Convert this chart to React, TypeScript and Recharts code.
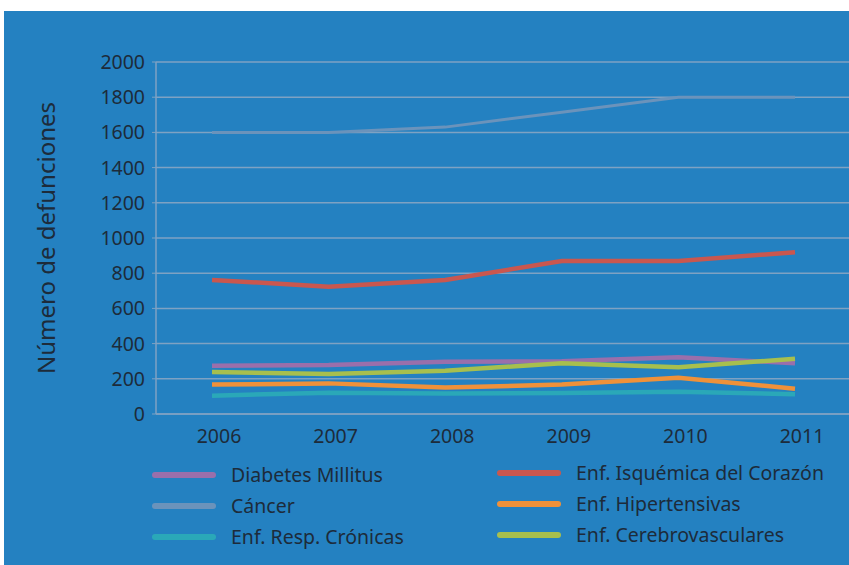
import { LineChart, Line, XAxis, YAxis, CartesianGrid } from "recharts";

const years = ["2006", "2007", "2008", "2009", "2010", "2011"];
const diabetes = [274, 278, 297, 300, 322, 288];
const cancer = [1600, 1600, 1630, 1715, 1800, 1800];
const respiratorias = [104, 121, 117, 119, 127, 112];
const isquemica = [762, 723, 762, 869, 869, 919];
const hipertensivas = [167, 174, 150, 167, 206, 144];
const cerebro = [239, 227, 246, 288, 265, 314];
const yTicks = [0, 200, 400, 600, 800, 1000, 1200, 1400, 1600, 1800, 2000];

const series = [
  { key: "diabetes", name: "Diabetes Millitus", color: "#9a6fab", values: diabetes },
  { key: "cancer", name: "Cáncer", color: "#6b93bb", values: cancer },
  { key: "resp", name: "Enf. Resp. Crónicas", color: "#2aa8b8", values: respiratorias },
  { key: "isq", name: "Enf. Isquémica del Corazón", color: "#c9574f", values: isquemica },
  { key: "hiper", name: "Enf. Hipertensivas", color: "#ef913a", values: hipertensivas },
  { key: "cerebro", name: "Enf. Cerebrovasculares", color: "#a7bf4e", values: cerebro },
];

const data = years.map((year, i) => {
  const row: Record<string, string | number> = { year };
  series.forEach((s) => (row[s.key] = s.values[i]));
  return row;
});

const font = "'Noto Sans', sans-serif";
const textColor = "#1d2b3a";
const gridColor = "#7ea2c3";

function LegendItem({ name, color }: { name: string; color: string }) {
  return (
    <div style={{ display: "flex", alignItems: "center", height: 31 }}>
      <div style={{ width: 64, height: 6, borderRadius: 3, background: color, marginRight: 15 }} />
      <span style={{ fontSize: 19.5, color: textColor }}>{name}</span>
    </div>
  );
}

export default function App() {
  const left = series.slice(0, 3);
  const right = series.slice(3);
  return (
    <div style={{ position: "relative", width: 849, height: 565, background: "#fff", fontFamily: font }}>
      <style>{`body{margin:0}`}</style>
      <div style={{ position: "absolute", left: 4, top: 11, width: 845, height: 554, background: "#2481c1" }}>
        <LineChart width={845} height={554} data={data} margin={{ top: 51, right: 0, bottom: 121, left: 0 }}>
          <CartesianGrid stroke={gridColor} strokeWidth={1.5} vertical={false} />
          <XAxis
            dataKey="year"
            padding={{ left: 56, right: 54 }}
            axisLine={{ stroke: gridColor, strokeWidth: 1.5 }}
            tickLine={false}
            tickSize={0}
            tickMargin={15}
            dx={7}
            tick={{ fill: textColor, fontSize: 19.5, fontFamily: font }}
          />
          <YAxis
            domain={[0, 2000]}
            ticks={yTicks}
            width={152}
            axisLine={{ stroke: gridColor, strokeWidth: 1.5 }}
            tickLine={{ stroke: gridColor }}
            tickSize={4}
            tickMargin={7}
            tick={{ fill: textColor, fontSize: 19.5, fontFamily: font }}
            label={{
              value: "Número de defunciones",
              angle: -90,
              position: "insideLeft",
              dx: 37,
              dy: 0,
              style: { fill: textColor, fontSize: 24, fontFamily: font, textAnchor: "middle" },
            }}
          />
          {series.map((s) => (
            <Line
              key={s.key}
              dataKey={s.key}
              name={s.name}
              stroke={s.color}
              strokeWidth={s.key === "cancer" ? 3 : 4.5}
              dot={false}
              activeDot={false}
              isAnimationActive={false}
            />
          ))}
        </LineChart>
        <div style={{ position: "absolute", left: 148, top: 448 }}>
          {left.map((s) => (
            <LegendItem key={s.key} name={s.name} color={s.color} />
          ))}
        </div>
        <div style={{ position: "absolute", left: 493, top: 446 }}>
          {right.map((s) => (
            <LegendItem key={s.key} name={s.name} color={s.color} />
          ))}
        </div>
      </div>
    </div>
  );
}
